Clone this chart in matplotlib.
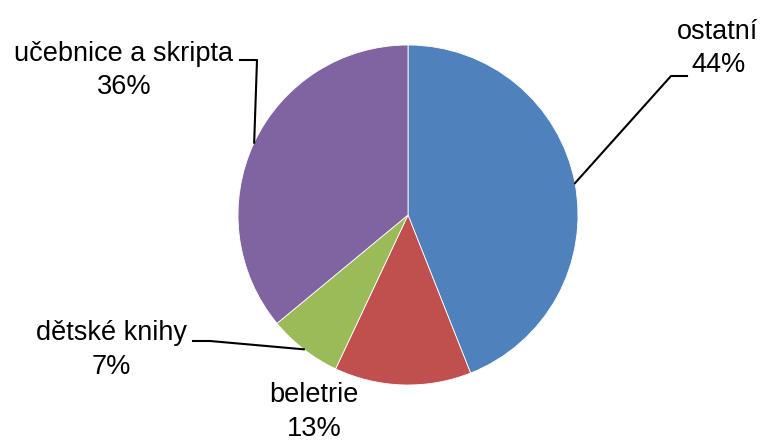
import matplotlib.pyplot as plt
import numpy as np

labels = ['ostatní', 'beletrie', 'dětské knihy', 'učebnice a skripta']
shares = [44, 13, 7, 36]
colors = ['#4F81BD', '#C0504D', '#9BBB59', '#8064A2']

plt.rcParams['font.family'] = ['Liberation Sans', 'DejaVu Sans']

W, H = 767, 444
fig = plt.figure(figsize=(W / 100, H / 100), dpi=100)
ax = fig.add_axes([0, 0, 1, 1])

# pie in pixel-like data coordinates
cx, cy, r = 408, H - 215, 170
wedges, _ = ax.pie(shares, colors=colors, startangle=90, counterclock=False,
                   center=(cx, cy), radius=r,
                   wedgeprops=dict(edgecolor='white', linewidth=0.6))
ax.set_xlim(0, W)
ax.set_ylim(0, H)
ax.set_aspect('equal')
ax.axis('off')

# label positions (text centre) and leader line elbows, in pixels from top-left
label_pos = {
    'ostatní': (718, 48),
    'beletrie': (314, 412),
    'dětské knihy': (111, 350),
    'učebnice a skripta': (124, 70),
}
elbows = {
    'ostatní': [(671, 76), (687, 76)],
    'dětské knihy': [(210, 341), (193, 341)],
    'učebnice a skripta': [(257, 60), (240, 60)],
}

for w, lab, val in zip(wedges, labels, shares):
    tx, ty = label_pos[lab]
    ax.text(tx, H - ty, f'{lab}\n{val}%', ha='center', va='center',
            fontsize=19.5, linespacing=1.35)
    if lab in elbows:
        ang = np.deg2rad((w.theta1 + w.theta2) / 2)
        xs = [cx + r * np.cos(ang)] + [p[0] for p in elbows[lab]]
        ys = [cy + r * np.sin(ang)] + [H - p[1] for p in elbows[lab]]
        ax.plot(xs, ys, color='black', linewidth=1.5)

fig.savefig('out.png', dpi=100)
